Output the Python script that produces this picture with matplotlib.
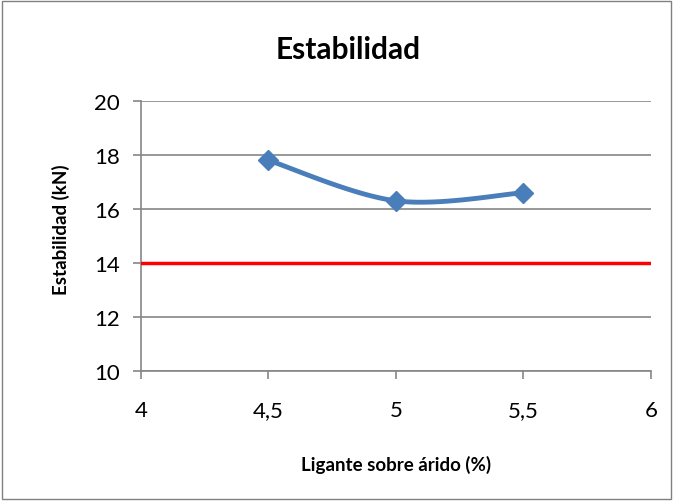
import numpy as np
import matplotlib.pyplot as plt
from matplotlib.patches import Rectangle

ligante = [4.5, 5.0, 5.5]
estabilidad = [17.8, 16.3, 16.6]
limite_x = [4, 6]
limite_y = [14, 14]
xticks = [4, 4.5, 5, 5.5, 6]
xticklabels = ["4", "4,5", "5", "5,5", "6"]
yticks = [10, 12, 14, 16, 18, 20]

plt.rcParams['font.family'] = ['Lato', 'DejaVu Sans']


def suavizar(x, y, n=40):
    # Catmull-Rom, como la linea suavizada de Excel
    p = np.column_stack([x, y])
    p = np.vstack([p[0], p, p[-1]])
    out = []
    for i in range(1, len(p) - 2):
        p0, p1, p2, p3 = p[i - 1], p[i], p[i + 1], p[i + 2]
        t = np.linspace(0, 1, n)[:, None]
        c = 0.5 * ((2 * p1) + (-p0 + p2) * t + (2 * p0 - 5 * p1 + 4 * p2 - p3) * t**2
                   + (-p0 + 3 * p1 - 3 * p2 + p3) * t**3)
        out.append(c)
    c = np.vstack(out)
    return c[:, 0], c[:, 1]


fig = plt.figure(figsize=(6.73, 5.02), dpi=100)
fig.patches.append(Rectangle((0.003, 0.003), 0.994, 0.994, transform=fig.transFigure,
                             fill=False, edgecolor='#808080', linewidth=1))
ax = fig.add_axes([0.2095, 0.259, 0.7578, 0.538])

sx, sy = suavizar(ligante, estabilidad)
ax.plot(sx, sy, color='#4a7ebb', linewidth=3.5, zorder=3)
ax.plot(ligante, estabilidad, 'D', color='#4a7ebb', markersize=10, zorder=4)
ax.plot(limite_x, limite_y, color='#ff0000', linewidth=2.5, zorder=3)

ax.set_xlim(4, 6)
ax.set_ylim(10, 20)
ax.set_xticks(xticks)
ax.set_xticklabels(xticklabels)
ax.set_yticks(yticks)
ax.grid(axis='y', color='#868686', linewidth=1.2)
ax.set_axisbelow(True)
for s in ['top', 'right']:
    ax.spines[s].set_visible(False)
for s in ['left', 'bottom']:
    ax.spines[s].set_color('#868686')
    ax.spines[s].set_linewidth(1.2)
ax.tick_params(axis='both', direction='out', length=6, width=1.2, color='#868686',
               labelsize=16)
ax.tick_params(axis='x', pad=15)
ax.tick_params(axis='y', pad=9)

fig.text(0.517, 1 - 50 / 502, "Estabilidad", fontsize=21.5, fontweight='bold',
         ha='center', va='center')
ax.set_xlabel("Ligante sobre árido (%)", fontsize=13.5, fontweight='bold')
ax.xaxis.set_label_coords(0.5, -0.31)
ax.set_ylabel("Estabilidad (kN)", fontsize=13.5, fontweight='bold')
ax.yaxis.set_label_coords(-0.14, 0.526)

fig.savefig("out.png", dpi=100)
